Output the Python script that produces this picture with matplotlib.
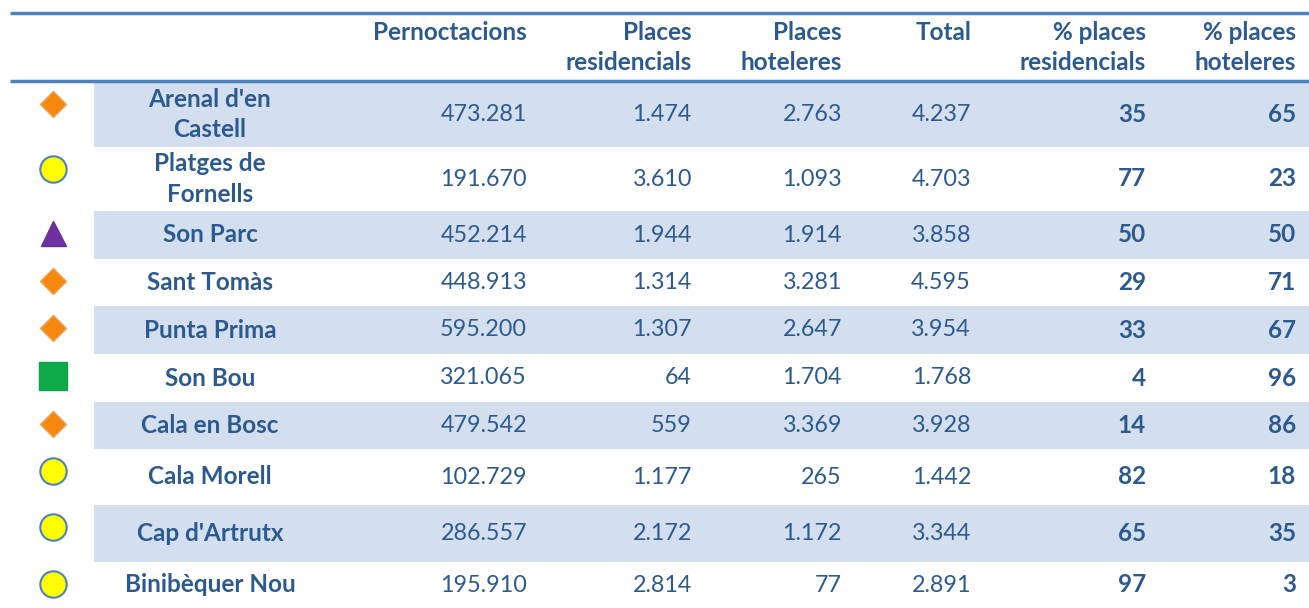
import matplotlib.pyplot as plt
from matplotlib.patches import Rectangle

plt.rcParams['font.family'] = ['Lato', 'DejaVu Sans']

# dades
zones = ["Arenal d'en\nCastell", "Platges de\nFornells", "Son Parc", "Sant Tomàs",
         "Punta Prima", "Son Bou", "Cala en Bosc", "Cala Morell", "Cap d'Artrutx",
         "Binibèquer Nou"]
pernoctacions = [473281, 191670, 452214, 448913, 595200, 321065, 479542, 102729, 286557, 195910]
places_res = [1474, 3610, 1944, 1314, 1307, 64, 559, 1177, 2172, 2814]
places_hot = [2763, 1093, 1914, 3281, 2647, 1704, 3369, 265, 1172, 77]
total = [4237, 4703, 3858, 4595, 3954, 1768, 3928, 1442, 3344, 2891]
pct_res = [35, 77, 50, 29, 33, 4, 14, 82, 65, 97]
pct_hot = [65, 23, 50, 71, 67, 96, 86, 18, 35, 3]
tipus = ['diamond', 'circle', 'triangle', 'diamond', 'diamond', 'square',
         'diamond', 'circle', 'circle', 'circle']
headers = ["Pernoctacions", "Places\nresidencials", "Places\nhoteleres", "Total",
           "% places\nresidencials", "% places\nhoteleres"]

# estil
TXT = '#2C5A8E'
BAND = '#D3DFEE'
LINE = '#4F81BD'
markers = {
    'diamond': dict(marker='D', color='#F5890F', mec='#F0A050', ms=13),
    'circle': dict(marker='o', color='#FFFF00', mec='#4F81BD', ms=19, mew=1.5),
    'triangle': dict(marker='^', color='#7030A0', mec='#6030A0', ms=18),
    'square': dict(marker='s', color='#0FAA4A', mec='#10A050', ms=20),
}

W, H = 1309, 608
fig = plt.figure(figsize=(W / 100, H / 100), dpi=100)
ax = fig.add_axes([0, 0, 1, 1])
ax.set_xlim(0, W)
ax.set_ylim(H, 0)
ax.axis('off')

row_h = [65, 64, 48, 47, 48, 48, 47, 56, 57, 46]
col_right = [527, 692, 842, 971, 1146, 1296]
name_x = 210
marker_x = 53
fs_head = 17.5
fs_num = 16.8

def fmt(v):
    return f"{v:,}".replace(',', '.')

# capçalera
ax.plot([10, W], [12.5, 12.5], color=LINE, lw=2.5, solid_capstyle='butt')
ax.plot([10, W], [80.5, 80.5], color=LINE, lw=2.5, solid_capstyle='butt')
for x, h in zip(col_right, headers):
    ax.text(x, 21, h, ha='right', va='top', fontsize=fs_head, fontweight='bold',
            color=TXT, linespacing=1.38)

y = 82
for i in range(len(zones)):
    h = row_h[i]
    if i % 2 == 0:
        ax.add_patch(Rectangle((94, y), W - 94, h, color=BAND, lw=0, zorder=0))
    yc = y + h / 2
    ax.plot(marker_x, y + min(h / 2, 22), linestyle='none', **markers[tipus[i]])
    ax.text(name_x, yc, zones[i], ha='center', va='center', fontsize=fs_head,
            fontweight='bold', color=TXT, linespacing=1.38)
    vals = [fmt(pernoctacions[i]), fmt(places_res[i]), fmt(places_hot[i]), fmt(total[i])]
    for x, v in zip(col_right[:4], vals):
        ax.text(x, yc, v, ha='right', va='center', fontsize=fs_num, color=TXT)
    for x, v in zip(col_right[4:], [pct_res[i], pct_hot[i]]):
        ax.text(x, yc, str(v), ha='right', va='center', fontsize=fs_head,
                fontweight='bold', color=TXT)
    y += h

fig.savefig('out.png', dpi=100)
